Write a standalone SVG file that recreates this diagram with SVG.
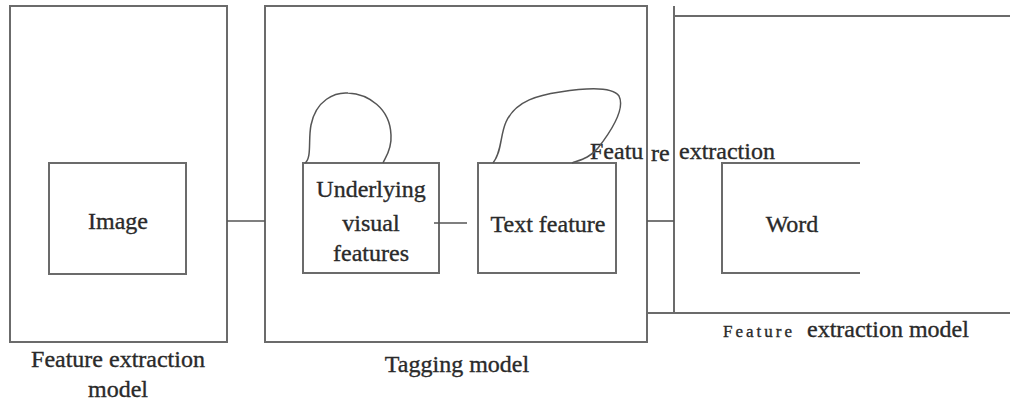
<svg xmlns="http://www.w3.org/2000/svg" width="1010" height="406" viewBox="0 0 1010 406">
  <style>
    .frame { fill: none; stroke: #6b6b6b; stroke-width: 2; }
    .wire { fill: none; stroke: #555; stroke-width: 1.6; }
    .loop { fill: none; stroke: #555; stroke-width: 1.5; }
    text { font-family: "Liberation Serif", "Times New Roman", serif; font-size: 24px; fill: #2a2a2a; stroke: #2a2a2a; stroke-width: 0.35; }
    .mid { text-anchor: middle; }
    .spaced { font-size: 17px; letter-spacing: 3px; }
  </style>
  <rect width="1010" height="406" fill="#ffffff"/>

  <!-- outer model frames -->
  <g id="feature-extraction-left">
    <rect class="frame" x="10" y="6" width="217" height="336"/>
    <text class="mid" x="118" y="367">Feature extraction</text>
    <text class="mid" x="118" y="397">model</text>
  </g>

  <g id="tagging-model">
    <rect class="frame" x="265" y="6" width="382" height="336"/>
    <text class="mid" x="457" y="372">Tagging model</text>
  </g>

  <g id="feature-extraction-right">
    <path class="frame" d="M674,6 V312 M674,16 H1010 M647,313 H1010"/>
    <text x="723" y="337"><tspan class="spaced">Feature</tspan><tspan x="807">extraction model</tspan></text>
  </g>

  <!-- inner nodes -->
  <g id="image">
    <rect class="frame" x="49" y="163" width="137" height="111"/>
    <text class="mid" x="118" y="229">Image</text>
  </g>

  <g id="underlying-visual-features">
    <rect class="frame" x="303" y="163" width="136" height="110"/>
    <text class="mid" x="371" y="197">Underlying</text>
    <text class="mid" x="371" y="231">visual</text>
    <text class="mid" x="371" y="261">features</text>
  </g>

  <g id="text-feature">
    <rect class="frame" x="478" y="163" width="138" height="110"/>
    <text class="mid" x="548" y="232">Text feature</text>
  </g>

  <g id="word">
    <path class="frame" d="M860,163 H722 V273 H860"/>
    <text class="mid" x="792" y="232">Word</text>
  </g>

  <g id="feature-extraction-label">
    <text x="590" y="159">Featu<tspan x="651" y="161">re</tspan><tspan x="673" y="159"> extraction</tspan></text>
  </g>

  <!-- connectors and self loops -->
  <g id="connectors">
    <line class="wire" x1="227" y1="221" x2="265" y2="221"/>
    <line class="wire" x1="434" y1="223" x2="467" y2="223"/>
    <line class="wire" x1="647" y1="221" x2="674" y2="221"/>
    <path class="loop" d="M305,163 C312,158 308,140 311,125 C316,100 335,92 348,93 C368,94 390,108 391,135 C392,150 385,158 383,163"/>
    <path class="loop" d="M493,163 C502,152 500,135 506,122 C516,100 540,95 560,92 C585,88 612,86 619,96 C625,108 612,130 598,148 C590,158 580,160 572,163"/>
  </g>
</svg>
